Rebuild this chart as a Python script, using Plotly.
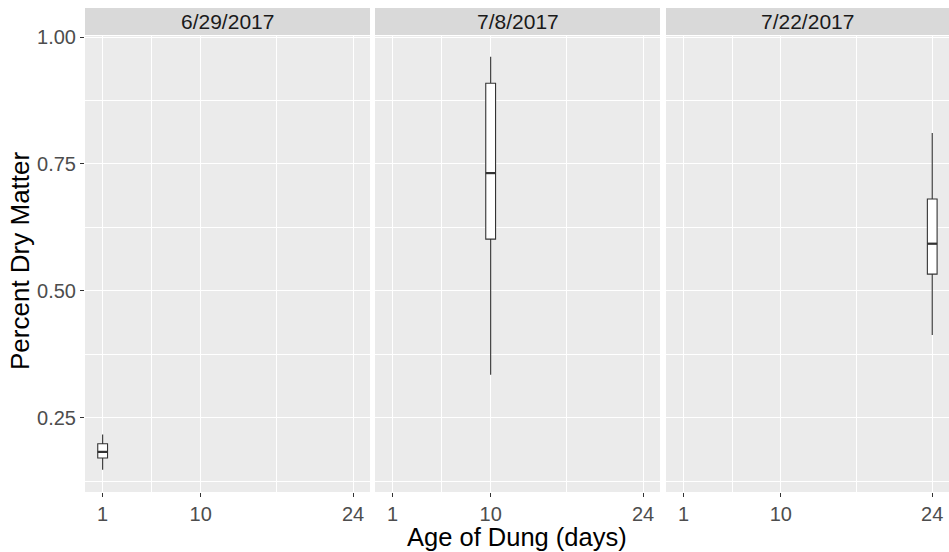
import plotly.graph_objects as go

# Data
panels = ["6/29/2017", "7/8/2017", "7/22/2017"]
ages = [1, 10, 24]
lower_whisker = [0.148, 0.335, 0.413]
q1 = [0.171, 0.602, 0.533]
median = [0.183, 0.732, 0.593]
q3 = [0.199, 0.909, 0.681]
upper_whisker = [0.217, 0.961, 0.811]
x_ticks = [1, 10, 24]
y_ticks = [0.25, 0.50, 0.75, 1.00]
y_tick_text = ["0.25", "0.50", "0.75", "1.00"]

W, H = 949, 552
box_w = 0.9
x_range = [-0.62, 25.55]
y_range = [0.104, 1.002]

x_pix = [(85, 370), (375, 660), (666, 949)]
y_top, y_bot = 36, 492
strip_top, strip_bot = 8, 35

fig = go.Figure()
line_col = "#333333"

for i, (p, a) in enumerate(zip(panels, ages)):
    xa = "x" if i == 0 else f"x{i+1}"
    ya = "y" if i == 0 else f"y{i+1}"
    fig.add_trace(go.Box(
        x=[a], q1=[q1[i]], median=[median[i]], q3=[q3[i]],
        lowerfence=[lower_whisker[i]], upperfence=[upper_whisker[i]],
        width=box_w, whiskerwidth=0, fillcolor="white",
        line=dict(color=line_col, width=1.1), boxpoints=False,
        xaxis=xa, yaxis=ya, showlegend=False, hoverinfo="skip"))
    fig.add_trace(go.Scatter(
        x=[a - box_w / 2, a + box_w / 2], y=[median[i], median[i]],
        mode="lines", line=dict(color=line_col, width=2.2),
        xaxis=xa, yaxis=ya, showlegend=False, hoverinfo="skip"))

layout = dict(
    width=W, height=H, margin=dict(l=0, r=0, t=0, b=0, autoexpand=False),
    paper_bgcolor="white", plot_bgcolor="#EBEBEB",
    font=dict(family="Liberation Sans, Arial, sans-serif"),
    boxmode="overlay", showlegend=False,
)

ydom = [1 - y_bot / H, 1 - y_top / H]
for i in range(3):
    xk = "xaxis" if i == 0 else f"xaxis{i+1}"
    yk = "yaxis" if i == 0 else f"yaxis{i+1}"
    ya = "y" if i == 0 else f"y{i+1}"
    xa = "x" if i == 0 else f"x{i+1}"
    layout[xk] = dict(
        domain=[x_pix[i][0] / W, x_pix[i][1] / W], range=x_range,
        anchor=ya, tickmode="array", tickvals=x_ticks,
        ticktext=[str(t) for t in x_ticks], automargin=False,
        showgrid=True, gridcolor="white", gridwidth=1.1,
        minor=dict(tickmode="array", tickvals=[5.5, 17], showgrid=True,
                   gridcolor="white", gridwidth=0.5, ticks=""),
        zeroline=False, showline=False,
        ticks="outside", ticklen=4, tickwidth=1, tickcolor="#333333",
        tickfont=dict(size=20, color="#4D4D4D"),
    )
    layout[yk] = dict(
        domain=ydom, range=y_range, anchor=xa, automargin=False,
        tickmode="array", tickvals=y_ticks, ticktext=y_tick_text,
        showticklabels=(i == 0),
        showgrid=True, gridcolor="white", gridwidth=1.1,
        minor=dict(tickmode="array", tickvals=[0.125, 0.375, 0.625, 0.875],
                   showgrid=True, gridcolor="white", gridwidth=0.5, ticks=""),
        zeroline=False, showline=False,
        ticks="outside" if i == 0 else "", ticklen=4, tickwidth=1,
        tickcolor="#333333",
        tickfont=dict(size=20, color="#4D4D4D"),
    )
    if i > 0:
        layout[yk]["matches"] = "y"

shapes = []
annotations = []
for i, p in enumerate(panels):
    x0, x1 = x_pix[i][0] / W, x_pix[i][1] / W
    shapes.append(dict(type="rect", xref="paper", yref="paper",
                       x0=x0, x1=x1, y0=1 - strip_bot / H, y1=1 - strip_top / H,
                       fillcolor="#D9D9D9", line=dict(width=0), layer="below"))
    annotations.append(dict(text=p, xref="paper", yref="paper",
                            x=(x0 + x1) / 2, y=1 - (strip_top + strip_bot) / 2 / H,
                            xanchor="center", yanchor="middle", showarrow=False,
                            font=dict(size=21, color="#1A1A1A")))

annotations.append(dict(text="Age of Dung (days)", xref="paper", yref="paper",
                        x=(85 + 949) / 2 / W, y=1 - 537 / H,
                        xanchor="center", yanchor="middle", showarrow=False,
                        font=dict(size=25.5, color="black")))
annotations.append(dict(text="Percent Dry Matter", xref="paper", yref="paper",
                        x=20 / W, y=1 - 261 / H, textangle=-90,
                        xanchor="center", yanchor="middle", showarrow=False,
                        font=dict(size=26, color="black")))

layout["shapes"] = shapes
layout["annotations"] = annotations
fig.update_layout(**layout)
fig.write_html("out.html")
